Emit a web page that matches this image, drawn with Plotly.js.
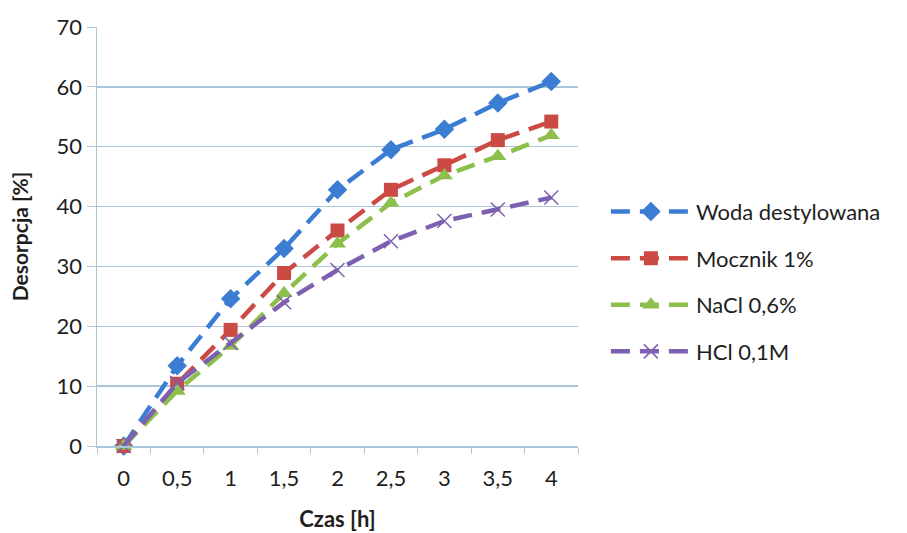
<!DOCTYPE html>
<html>
<head>
<meta charset="utf-8">
<script src="https://cdn.plot.ly/plotly-3.0.1.min.js"></script>
<style>html,body{margin:0;padding:0;background:#fff;}#chart{width:907px;height:533px;}</style>
</head>
<body>
<div id="chart"></div>
<script>
const categories = ["0","0,5","1","1,5","2","2,5","3","3,5","4"];
const woda = [0, 13.4, 24.6, 33.0, 42.8, 49.5, 52.9, 57.3, 60.9];
const mocznik = [0, 10.4, 19.4, 28.9, 36.0, 42.8, 46.9, 51.1, 54.2];
const nacl = [0, 9.2, 16.7, 25.5, 33.8, 40.6, 45.2, 48.4, 51.9];
const hcl = [0, 10.5, 17.2, 24.0, 29.4, 34.2, 37.6, 39.5, 41.5];
const names = ["Woda destylowana","Mocznik 1%","NaCl 0,6%","HCl 0,1M"];

const font = "Lato, 'Open Sans', sans-serif";
const txt = '#1e1e1e';
function tr(y, name, color, symbol, size, grp){
  return {x: categories, y: y, name: name, type: 'scatter', mode: 'lines+markers',
    legendgroup: grp, cliponaxis: false,
    line: {color: color, width: 4.5, dash: '19px,10px'},
    marker: {symbol: symbol, size: size, color: color, line: {color: color, width: symbol.indexOf('x')===0 ? 1.5 : 0}}};
}
const data = [
  tr(woda, names[0], '#3a7dd2', 'diamond', 15, 'a'),
  tr(mocznik, names[1], '#cc4a44', 'square', 14, 'b'),
  tr(nacl, names[2], '#8cbf4c', 'triangle-up', 15, 'c'),
  tr(hcl, names[3], '#7e60b0', 'x-thin', 14, 'd')
];
const grid = '#a9c6da';
const layout = {
  width: 907, height: 533,
  margin: {l: 97, r: 329, t: 27, b: 87},
  paper_bgcolor: '#fff', plot_bgcolor: '#fff',
  font: {family: font, size: 22, color: txt},
  showlegend: true,
  legend: {x: 1.058, y: 0.392, yanchor: 'middle', xanchor: 'left', tracegroupgap: 15,
    font: {family: font, size: 22, color: txt}, itemwidth: 80, borderwidth: 0},
  xaxis: {type: 'category', range: [-0.5, 8.5], autorange: false, showgrid: false, showline: true, linecolor: grid, linewidth: 1.5,
    ticks: 'outside', tickson: 'boundaries', ticklen: 6, tickcolor: grid, automargin: false,
    ticklabelstandoff: 12,
    tickfont: {family: font, size: 22, color: txt},
    title: {text: '<b>Czas [h]</b>', font: {family: font, size: 22, color: txt}, standoff: 21},
    zeroline: false, fixedrange: true},
  yaxis: {range: [0, 70], autorange: false, dtick: 10, tick0: 0, showgrid: true, gridcolor: grid, gridwidth: 1.5,
    showline: true, linecolor: grid, linewidth: 1.5, ticks: 'outside', ticklen: 9, tickcolor: grid,
    automargin: false,
    tickfont: {family: font, size: 22, color: txt},
    title: {text: '<b>Desorpcja [%]</b>', font: {family: font, size: 21, color: txt}, standoff: 22},
    zeroline: false, fixedrange: true}
};
Plotly.newPlot('chart', data, layout, {displayModeBar: false, staticPlot: true});
</script>
</body>
</html>
